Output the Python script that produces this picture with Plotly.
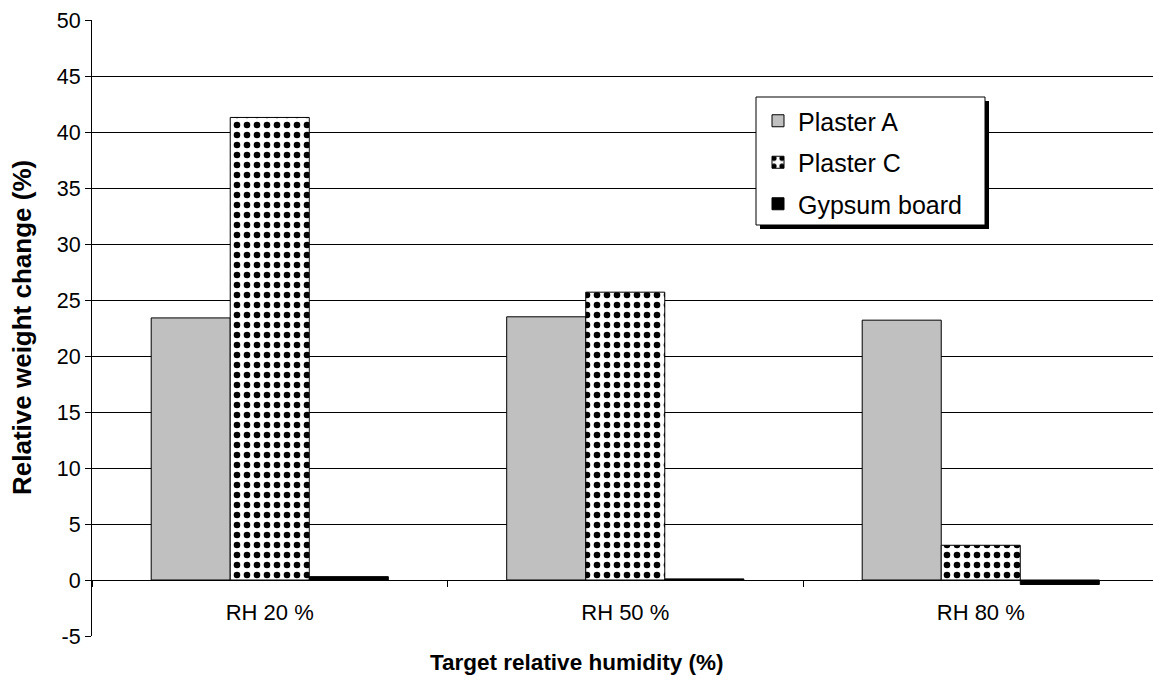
import plotly.graph_objects as go

# Relative weight change per target humidity step
categories = ["RH 20 %", "RH 50 %", "RH 80 %"]
plaster_a = [23.4, 23.5, 23.2]
plaster_c = [41.3, 25.7, 3.1]
gypsum_board = [0.3, 0.1, -0.4]

y_ticks = list(range(-5, 51, 5))
y_tick_text = [str(v) for v in y_ticks]

FONT = "Liberation Sans, Arial, sans-serif"

fig = go.Figure()
fig.add_trace(go.Bar(
    name="Plaster A", x=categories, y=plaster_a, legendgroup="a",
    marker=dict(color="#C0C0C0", line=dict(color="black", width=1)),
))
fig.add_trace(go.Bar(
    name="Plaster C", x=categories, y=plaster_c, legendgroup="c",
    marker=dict(color="white", line=dict(color="black", width=1),
                pattern=dict(shape=".", fgcolor="black", bgcolor="white",
                             fgopacity=1, size=10, solidity=0.34)),
))
fig.add_trace(go.Bar(
    name="Gypsum board", x=categories, y=gypsum_board, legendgroup="g",
    marker=dict(color="black", line=dict(color="black", width=1)),
))

W, H = 1153, 693
L, R, T, B = 92, 0, 20, 57
plot_w = W - L - R
plot_h = H - T - B


def px(x):
    return (x - L) / plot_w


def py(y):
    return (H - B - y) / plot_h


# legend frame with a drop shadow
lx0, ly0, lx1, ly1 = 756, 97, 985, 225
fig.add_shape(type="rect", xref="paper", yref="paper",
              x0=px(lx0 + 4), x1=px(lx1 + 4), y0=py(ly1 + 4), y1=py(ly0 + 4),
              fillcolor="black", line=dict(width=0), layer="above")
fig.add_shape(type="rect", xref="paper", yref="paper",
              x0=px(lx0), x1=px(lx1), y0=py(ly1), y1=py(ly0),
              fillcolor="white", line=dict(color="black", width=1), layer="above")

fig.update_layout(
    width=W, height=H,
    margin=dict(l=L, r=R, t=T, b=B),
    paper_bgcolor="white", plot_bgcolor="white",
    font=dict(family=FONT, size=20, color="black"),
    barmode="group", bargap=0.333, bargroupgap=0,
    showlegend=True,
    legend=dict(
        x=px(lx0 + 2), y=py(ly0 + 1), xanchor="left", yanchor="top",
        bgcolor="rgba(0,0,0,0)", borderwidth=0,
        font=dict(family=FONT, size=25, color="black"),
        tracegroupgap=6,
    ),
    xaxis=dict(
        type="category", range=[-0.5, 2.4845],
        anchor="free", position=5 / 55,
        showline=True, linecolor="black", linewidth=1,
        ticks="outside", ticklen=6, tickcolor="black", tickson="boundaries",
        showgrid=False, tickfont=dict(family=FONT, size=22),
        ticklabelstandoff=13,
    ),
    yaxis=dict(
        range=[-5, 50], tickvals=y_ticks, ticktext=y_tick_text,
        showline=True, linecolor="black", linewidth=1,
        ticks="outside", ticklen=6, tickcolor="black",
        showgrid=True, gridcolor="black", gridwidth=1,
        zeroline=True, zerolinecolor="black", zerolinewidth=1,
        tickfont=dict(family=FONT, size=21.5),
    ),
    annotations=[
        dict(text="<b>Relative weight change (%)</b>", textangle=-90,
             xref="paper", yref="paper", x=0, y=0.5, xshift=-70,
             xanchor="center", yanchor="middle", showarrow=False,
             font=dict(family=FONT, size=26)),
        dict(text="<b>Target relative humidity (%)</b>",
             xref="paper", yref="paper", x=px(576.5), y=py(662),
             xanchor="center", yanchor="middle", showarrow=False,
             font=dict(family=FONT, size=22.5)),
    ],
)

fig.write_html("out.html")
